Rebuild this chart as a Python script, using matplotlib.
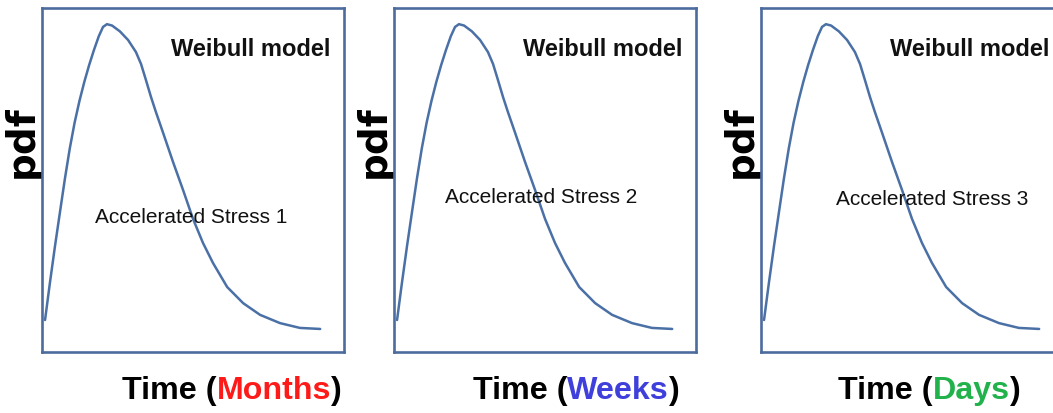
import matplotlib
matplotlib.use("Agg")
import matplotlib.pyplot as plt

# Curve (same shape in every panel), axis fraction units
time = [0.010, 0.026, 0.043, 0.060, 0.076, 0.092, 0.108, 0.124, 0.140, 0.156,
        0.172, 0.188, 0.202, 0.215, 0.232, 0.258, 0.285, 0.311, 0.328,
        0.344, 0.361, 0.377, 0.401, 0.434, 0.467, 0.500, 0.533, 0.566, 0.613,
        0.666, 0.722, 0.788, 0.854, 0.921]
pdf = [0.093, 0.200, 0.308, 0.410, 0.505, 0.592, 0.667, 0.730, 0.785, 0.834,
       0.878, 0.918, 0.945, 0.953, 0.949, 0.932, 0.907, 0.872, 0.837,
       0.791, 0.741, 0.698, 0.637, 0.552, 0.471, 0.387, 0.317, 0.259, 0.189,
       0.142, 0.108, 0.084, 0.070, 0.067]

stress_labels = ["Accelerated Stress 1", "Accelerated Stress 2", "Accelerated Stress 3"]
units = ["Months", "Weeks", "Days"]
unit_colors = ["#ff1a1a", "#3f3fdc", "#22b24c"]

# layout (figure fractions) and text positions inside each panel
lefts = [0.0399, 0.3742, 0.7227]
stress_pos = [(0.493, 0.392), (0.488, 0.450), (0.567, 0.442)]
xlabel_x = [0.116, 0.449, 0.796]

font = ["Liberation Sans", "DejaVu Sans"]
box_color = "#4d6c9e"
line_color = "#4a70a6"

fig = plt.figure(figsize=(10.53, 4.13), dpi=100)

for i in range(3):
    ax = fig.add_axes([lefts[i], 0.1477, 0.2868, 0.8329])
    ax.plot(time, pdf, color=line_color, linewidth=1.8,
            solid_joinstyle="round", solid_capstyle="round")
    ax.set_xlim(0, 1)
    ax.set_ylim(0, 1)
    ax.set_xticks([])
    ax.set_yticks([])
    for s in ax.spines.values():
        s.set_color(box_color)
        s.set_linewidth(1.9)

    ax.text(0.692, 0.878, "Weibull model", transform=ax.transAxes,
            ha="center", va="center", fontsize=17, fontweight="bold",
            family=font, color="#111111")
    ax.text(stress_pos[i][0], stress_pos[i][1], stress_labels[i],
            transform=ax.transAxes, ha="center", va="center", fontsize=15,
            family=font, color="#111111")
    ax.set_ylabel("pdf", fontsize=28, fontweight="bold", family="DejaVu Sans",
                  labelpad=0, color="black")
    ax.yaxis.set_label_coords(-0.005, 0.61)
    ax.yaxis.label.set_ha("center")
    ax.yaxis.label.set_va("bottom")

    # x label made of three coloured pieces
    t1 = fig.text(xlabel_x[i], 0.018, "Time (", fontsize=23.2, fontweight="bold",
                  family=font, color="black", va="bottom", ha="left")
    t2 = ax.annotate(units[i], xy=(1, 0), xycoords=t1, va="bottom", ha="left",
                     fontsize=23.2, fontweight="bold", family=font,
                     color=unit_colors[i])
    ax.annotate(")", xy=(1, 0), xycoords=t2, va="bottom", ha="left",
                fontsize=23.2, fontweight="bold", family=font, color="black")

fig.savefig("out.png", dpi=100)
